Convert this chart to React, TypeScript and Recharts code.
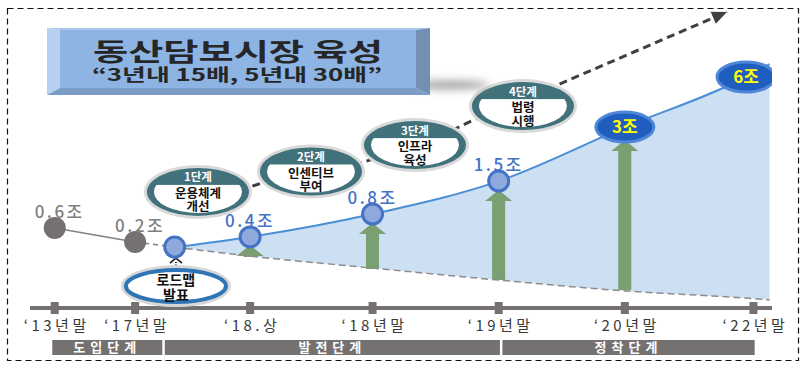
import React from "react";
import { ComposedChart, XAxis, YAxis, Area, Line, Bar, Scatter } from "recharts";

const FONT = '"Noto Sans CJK KR", "Noto Sans", sans-serif';

// axis slots (uneven spacing, as in the original) and their labels
const slots = [0, 0.65, 1.58, 2.57, 3.59, 4.61, 5.65];
const slotLabels = ["‘13년말", "‘17년말", "‘18.상", "‘18년말", "‘19년말", "‘20년말", "‘22년말"];

// market size markers, y is the chart level (0-100)
const pastPoints = [
  { x: 0, y: 26.7, label: "0.6조" },
  { x: 0.65, y: 22, label: "0.2조" },
];
const growthPoints = [
  { x: 0.97, y: 20.3, label: "" },
  { x: 1.58, y: 23.7, label: "0.4조" },
  { x: 2.57, y: 31.3, label: "0.8조" },
  { x: 3.59, y: 42.3, label: "1.5조" },
];
const targetPoints = [
  { x: 4.61, y: 60.3, label: "3조" },
  { x: 5.59, y: 77, label: "6조" },
];

const pastSolid = [
  { x: 0, y: 26.7 },
  { x: 0.65, y: 22 },
];
const pastDashed = [
  { x: 0.65, y: 22 },
  { x: 0.97, y: 20.3 },
];

// growth band: upper curve and dashed baseline
const bandX = [0.97, 1.58, 2.57, 3.59, 4.61, 5.59, 5.78];
const bandHigh = [20.3, 23.7, 31.3, 42.3, 60.3, 77, 81.3];
const bandLow = [20.3, 17.3, 13.3, 9.3, 5.7, 3.3, 2.7];

// green growth arrows
const arrowX = [1.58, 2.57, 3.59, 4.61];
const arrowLow = [17, 13, 9.3, 6];
const arrowHigh = [21, 28.3, 39.3, 56];

const stages = [
  { x: 1.158, y: 38.7, head: "1단계", lines: ["운용체계", "개선"] },
  { x: 2.072, y: 45.5, head: "2단계", lines: ["인센티브", "부여"] },
  { x: 2.913, y: 54.3, head: "3단계", lines: ["인프라", "육성"] },
  { x: 3.786, y: 67.3, head: "4단계", lines: ["법령", "시행"] },
];
const roadmap = [{ x: 0.98, y: 7.3, lines: ["로드맵", "발표"] }];

// dashed trend arrow through the stages
const trendX = [1.498, 1.7, 2.452, 2.646, 3.237, 3.455, 4.045, 5.436];
const trendY = [39.3, 42, 48, 50.7, 59.7, 64, 74, 98.7];

const phaseNames = ["도입단계", "발전단계", "정착단계"];
const phaseBounds = [
  [-0.02, 0.87],
  [0.89, 3.6],
  [3.62, 5.66],
];

const band = bandX.map((x, i) => ({ x, hi: bandHigh[i], lo: bandLow[i] }));
const arrows = arrowX.map((x, i) => ({ x, lo: arrowLow[i], hi: arrowHigh[i] }));
const trend = trendX.map((x, i) => ({ x, y: trendY[i] }));
const trendTip = [{ x: trendX[trendX.length - 1], y: trendY[trendY.length - 1] }];

const W = 808;
const H = 369;
const M = { top: 8, right: 36, bottom: 0, left: 30 };
const DOMAIN: [number, number] = [-0.2, 5.8];
const toPx = (v: number) =>
  M.left + ((v - DOMAIN[0]) / (DOMAIN[1] - DOMAIN[0])) * (W - M.left - M.right);

const AxisTick = ({ x, y, payload }: any) => {
  const i = slots.findIndex((s) => Math.abs(s - payload.value) < 1e-6);
  return (
    <g>
      <rect x={x - 4} y={y - 6} width={8} height={12} fill="#767171" />
      <text
        x={x + 2}
        y={y + 23}
        textAnchor="middle"
        fontSize={15}
        fill="#3a3a3a"
        letterSpacing={3.5}
        fontFamily={FONT}
      >
        {slotLabels[i]}
      </text>
    </g>
  );
};

const UpArrow = (props: any) => {
  const { x, y, width, height } = props;
  if (height == null || height <= 0) return null;
  const cx = x + width / 2;
  const head = Math.min(11, height);
  const hw = 13.5;
  const s = 6.5;
  const pts = [
    [cx, y],
    [cx + hw, y + head],
    [cx + s, y + head],
    [cx + s, y + height],
    [cx - s, y + height],
    [cx - s, y + head],
    [cx - hw, y + head],
  ]
    .map((p) => p.join(","))
    .join(" ");
  return <polygon points={pts} fill="#7aa072" />;
};

const PastDot = ({ cx, cy, payload }: any) => (
  <g>
    <circle cx={cx} cy={cy} r={11} fill="#767171" />
    <text x={cx + 5} y={cy - 10} textAnchor="middle" fontSize={17} fill="#7f7f7f" letterSpacing={2.5} fontFamily={FONT} fontWeight={500}>
      {payload.label}
    </text>
  </g>
);

const GrowthDot = ({ cx, cy, payload }: any) => (
  <g>
    <circle cx={cx} cy={cy} r={10} fill="#8eaadc" stroke="#4472c4" strokeWidth={3} />
    {payload.label && (
      <text x={cx} y={cy - 10} textAnchor="middle" fontSize={17} fill="#4472c4" letterSpacing={2.5} fontFamily={FONT} fontWeight={500}>
        {payload.label}
      </text>
    )}
  </g>
);

const TargetDot = ({ cx, cy, payload }: any) => (
  <g>
    <ellipse cx={cx} cy={cy} rx={29} ry={15} fill="#1f5dbf" stroke="#4f87d8" strokeWidth={3} />
    <text x={cx} y={cy + 6} textAnchor="middle" fontSize={17} fill="#ffff00" fontWeight={700} fontFamily={FONT}>
      {payload.label}
    </text>
  </g>
);

const StageBadge = ({ cx, cy, payload }: any) => {
  const rx = 51;
  const ry = 24;
  const id = `clip-stage-${payload.head}`;
  return (
    <g fontFamily={FONT}>
      <ellipse cx={cx} cy={cy} rx={rx + 3} ry={ry + 3} fill="#d9d9d9" />
      <ellipse cx={cx} cy={cy} rx={rx} ry={ry} fill="#41717a" />
      <clipPath id={id}>
        <ellipse cx={cx} cy={cy} rx={rx - 7} ry={ry - 3} />
      </clipPath>
      <rect x={cx - rx} y={cy - 7} width={2 * rx} height={ry + 7} fill="#fff" clipPath={`url(#${id})`} />
      <text x={cx} y={cy - 10.5} textAnchor="middle" fontSize={11.5} fontWeight={700} fill="#fff">
        {payload.head}
      </text>
      <text x={cx} y={cy + 6} textAnchor="middle" fontSize={12.5} fontWeight={700} fill="#111">
        {payload.lines[0]}
      </text>
      <text x={cx} y={cy + 19.5} textAnchor="middle" fontSize={12.5} fontWeight={700} fill="#111">
        {payload.lines[1]}
      </text>
    </g>
  );
};

const RoadmapBadge = ({ cx, cy, payload }: any) => (
  <g fontFamily={FONT}>
    <line x1={cx} y1={cy - 17} x2={cx} y2={cy - 24} stroke="#222" strokeWidth={2} strokeDasharray="1.5 1.5" />
    <polyline points={`${cx - 6},${cy - 23} ${cx},${cy - 28} ${cx + 6},${cy - 23}`} fill="none" stroke="#222" strokeWidth={1.6} />
    <ellipse cx={cx} cy={cy} rx={55} ry={21} fill="#d6d6d6" />
    <ellipse cx={cx} cy={cy} rx={50} ry={16} fill="#fff" stroke="#2e75b6" strokeWidth={4} />
    <text x={cx} y={cy - 1} textAnchor="middle" fontSize={14} fontWeight={700} fill="#111">
      {payload.lines[0]}
    </text>
    <text x={cx} y={cy + 14} textAnchor="middle" fontSize={14} fontWeight={700} fill="#111">
      {payload.lines[1]}
    </text>
  </g>
);

const TrendHead = ({ cx, cy }: any) => (
  <polygon points="0,0 -15,-6.5 -15,6.5" fill="#404040" transform={`translate(${cx},${cy}) rotate(-23.3)`} />
);

export default function App() {
  return (
    <div style={{ position: "absolute", left: 0, top: 0, width: W, height: H, background: "#fff" }}>
      <ComposedChart width={W} height={H} data={arrows} margin={M}>
        <XAxis
          type="number"
          dataKey="x"
          domain={DOMAIN}
          ticks={slots}
          interval={0}
          allowDataOverflow
          tickSize={0}
          tickMargin={0}
          tickLine={false}
          height={61}
          axisLine={{ stroke: "#767171", strokeWidth: 4 }}
          tick={<AxisTick />}
        />
        <YAxis type="number" hide domain={[0, 100]} allowDataOverflow />
        <Area
          data={band}
          dataKey={(d: any) => [d.lo, d.hi]}
          type="monotone"
          fill="#cddff2"
          fillOpacity={1}
          stroke="none"
          isAnimationActive={false}
        />
        <Bar dataKey={(d: any) => [d.lo, d.hi]} barSize={27} shape={<UpArrow />} isAnimationActive={false} />
        <Line data={pastSolid} dataKey="y" type="linear" stroke="#808080" strokeWidth={1.5} dot={false} isAnimationActive={false} />
        <Line data={pastDashed} dataKey="y" type="linear" stroke="#808080" strokeWidth={1.5} strokeDasharray="5 4" dot={false} isAnimationActive={false} />
        <Line data={band} dataKey="lo" type="monotone" stroke="#8c8c8c" strokeWidth={1.5} strokeDasharray="7 4" dot={false} isAnimationActive={false} />
        <Line data={band} dataKey="hi" type="monotone" stroke="#4a8fd6" strokeWidth={2} dot={false} isAnimationActive={false} />
        <Line data={trend} dataKey="y" type="linear" stroke="#404040" strokeWidth={3} strokeDasharray="8 5" dot={false} isAnimationActive={false} />
        <Scatter data={trendTip} dataKey="y" shape={<TrendHead />} isAnimationActive={false} />
        <Scatter data={stages} dataKey="y" shape={<StageBadge />} isAnimationActive={false} />
        <Scatter data={roadmap} dataKey="y" shape={<RoadmapBadge />} isAnimationActive={false} />
        <Scatter data={pastPoints} dataKey="y" shape={<PastDot />} isAnimationActive={false} />
        <Scatter data={growthPoints} dataKey="y" shape={<GrowthDot />} isAnimationActive={false} />
        <Scatter data={targetPoints} dataKey="y" shape={<TargetDot />} isAnimationActive={false} />
      </ComposedChart>

      <svg width={W} height={H} style={{ position: "absolute", left: 0, top: 0, pointerEvents: "none" }}>
        <defs>
          <filter id="soft" x="-50%" y="-200%" width="200%" height="500%">
            <feGaussianBlur stdDeviation="4" />
          </filter>
        </defs>
        <rect x={7.5} y={8.5} width={791} height={352} fill="none" stroke="#111" strokeWidth={1.2} strokeDasharray="6 4" />

        {/* title box */}
        <ellipse cx={450} cy={85} rx={40} ry={4} fill="#9a9a9a" filter="url(#soft)" />
        <rect x={60} y={30} width={356} height={58} fill="#8db4e2" />
        <polygon points="47,28 430,28 416,30 60,30" fill="#a8c7ea" />
        <polygon points="47,28 60,30 60,88 47,95" fill="#b6d1f0" />
        <polygon points="47,95 60,88 416,88 430,95" fill="#7b9dc6" />
        <polygon points="430,28 416,30 416,88 430,95" fill="#7190b4" />
        <text x={93} y={61} fontSize={25} fontWeight={700} fill="#262626" fontFamily={FONT} textLength={290} lengthAdjust="spacingAndGlyphs">
          동산담보시장 육성
        </text>
        <text x={92} y={81} fontSize={17} fontWeight={700} fill="#262626" fontFamily={FONT} textLength={290} lengthAdjust="spacingAndGlyphs">
          “3년내 15배, 5년내 30배”
        </text>

        {/* phases */}
        {phaseNames.map((name, i) => {
          const x1 = toPx(phaseBounds[i][0]);
          const x2 = toPx(phaseBounds[i][1]);
          return (
            <g key={name}>
              <rect x={x1} y={340} width={x2 - x1} height={15} fill="#767171" />
              <text x={(x1 + x2) / 2} y={352} textAnchor="middle" fontSize={13} fontWeight={700} fill="#fff" letterSpacing={5} fontFamily={FONT}>
                {name}
              </text>
            </g>
          );
        })}
      </svg>
    </div>
  );
}
